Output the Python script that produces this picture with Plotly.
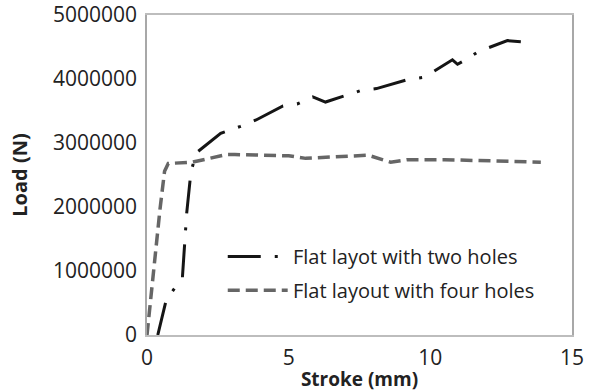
import plotly.graph_objects as go

# Data
stroke_two = [0.38, 0.68, 1.25, 1.40, 1.55, 1.75, 2.60, 3.30, 3.85, 4.80, 5.30, 5.85, 6.30, 7.00, 7.55, 8.10, 9.20, 9.80, 10.25, 10.78, 10.96, 11.25, 11.70, 12.25, 12.72, 13.30]
load_two = [0, 550000, 900000, 1900000, 2550000, 2850000, 3150000, 3260000, 3360000, 3580000, 3610000, 3720000, 3640000, 3740000, 3820000, 3850000, 3990000, 4030000, 4150000, 4300000, 4230000, 4300000, 4430000, 4520000, 4600000, 4580000]

stroke_four = [0.00, 0.10, 0.28, 0.46, 0.62, 0.75, 1.60, 2.20, 2.80, 3.10, 5.00, 5.60, 6.80, 7.80, 8.60, 9.20, 10.50, 13.90]
load_four = [0, 450000, 1150000, 1970000, 2560000, 2680000, 2700000, 2760000, 2820000, 2820000, 2800000, 2760000, 2790000, 2810000, 2700000, 2740000, 2740000, 2700000]

names = ["Flat layot with two holes", "Flat layout with four holes"]

x_ticks = [0, 5, 10, 15]
y_ticks = [0, 1000000, 2000000, 3000000, 4000000, 5000000]

FONT = "Open Sans"
TXT = "#222222"
DASH_TWO = "33px,14px,3px,14px"
DASH_FOUR = "12px,6px"
C_TWO = "#151515"
C_FOUR = "#666666"

fig = go.Figure()
fig.add_trace(go.Scatter(x=stroke_two, y=load_two, mode="lines", name=names[0],
                         line=dict(color=C_TWO, width=3, dash=DASH_TWO), showlegend=False))
fig.add_trace(go.Scatter(x=stroke_four, y=load_four, mode="lines", name=names[1],
                         line=dict(color=C_FOUR, width=3.5, dash=DASH_FOUR), showlegend=False))

# manual legend (line samples + labels)
leg_rows = [0.245, 0.14]
styles = [(C_TWO, 3, DASH_TWO), (C_FOUR, 3.5, DASH_FOUR)]
for nm, yy, (c, w, d) in zip(names, leg_rows, styles):
    fig.add_shape(type="line", xref="paper", yref="paper", x0=0.19, x1=0.331, y0=yy, y1=yy,
                  line=dict(color=c, width=w, dash=d))
    fig.add_annotation(xref="paper", yref="paper", x=0.338, y=yy, text=nm, showarrow=False,
                       xanchor="left", yanchor="middle", font=dict(family=FONT, size=20, color=TXT))

fig.update_layout(
    width=590, height=392,
    margin=dict(l=147, r=18, t=15, b=57),
    paper_bgcolor="white", plot_bgcolor="white",
    font=dict(family=FONT, size=21, color=TXT),
)
fig.update_xaxes(range=[0, 15], tickvals=x_ticks, ticktext=[str(v) for v in x_ticks],
                 showgrid=False, zeroline=False, showline=True, linecolor="#bdbdbd", linewidth=1.5,
                 mirror=True, ticks="", ticklabelstandoff=3, automargin=False,
                 tickfont=dict(family=FONT, size=21, color=TXT),
                 title=dict(text="<b>Stroke (mm)</b>", font=dict(family=FONT, size=19, color=TXT), standoff=5))
fig.update_yaxes(range=[0, 5000000], tickvals=y_ticks, ticktext=[str(v) for v in y_ticks],
                 showgrid=False, zeroline=False, showline=True, linecolor="#a8a8a8", linewidth=1.5,
                 mirror=True, ticks="", ticklabelstandoff=4, automargin=False,
                 tickfont=dict(family=FONT, size=21, color=TXT),
                 title=dict(text="<b>Load (N)</b>", font=dict(family=FONT, size=20, color=TXT), standoff=20))

fig.write_html("out.html", config={"displayModeBar": False},
               post_script="document.body.style.margin='0px';")
